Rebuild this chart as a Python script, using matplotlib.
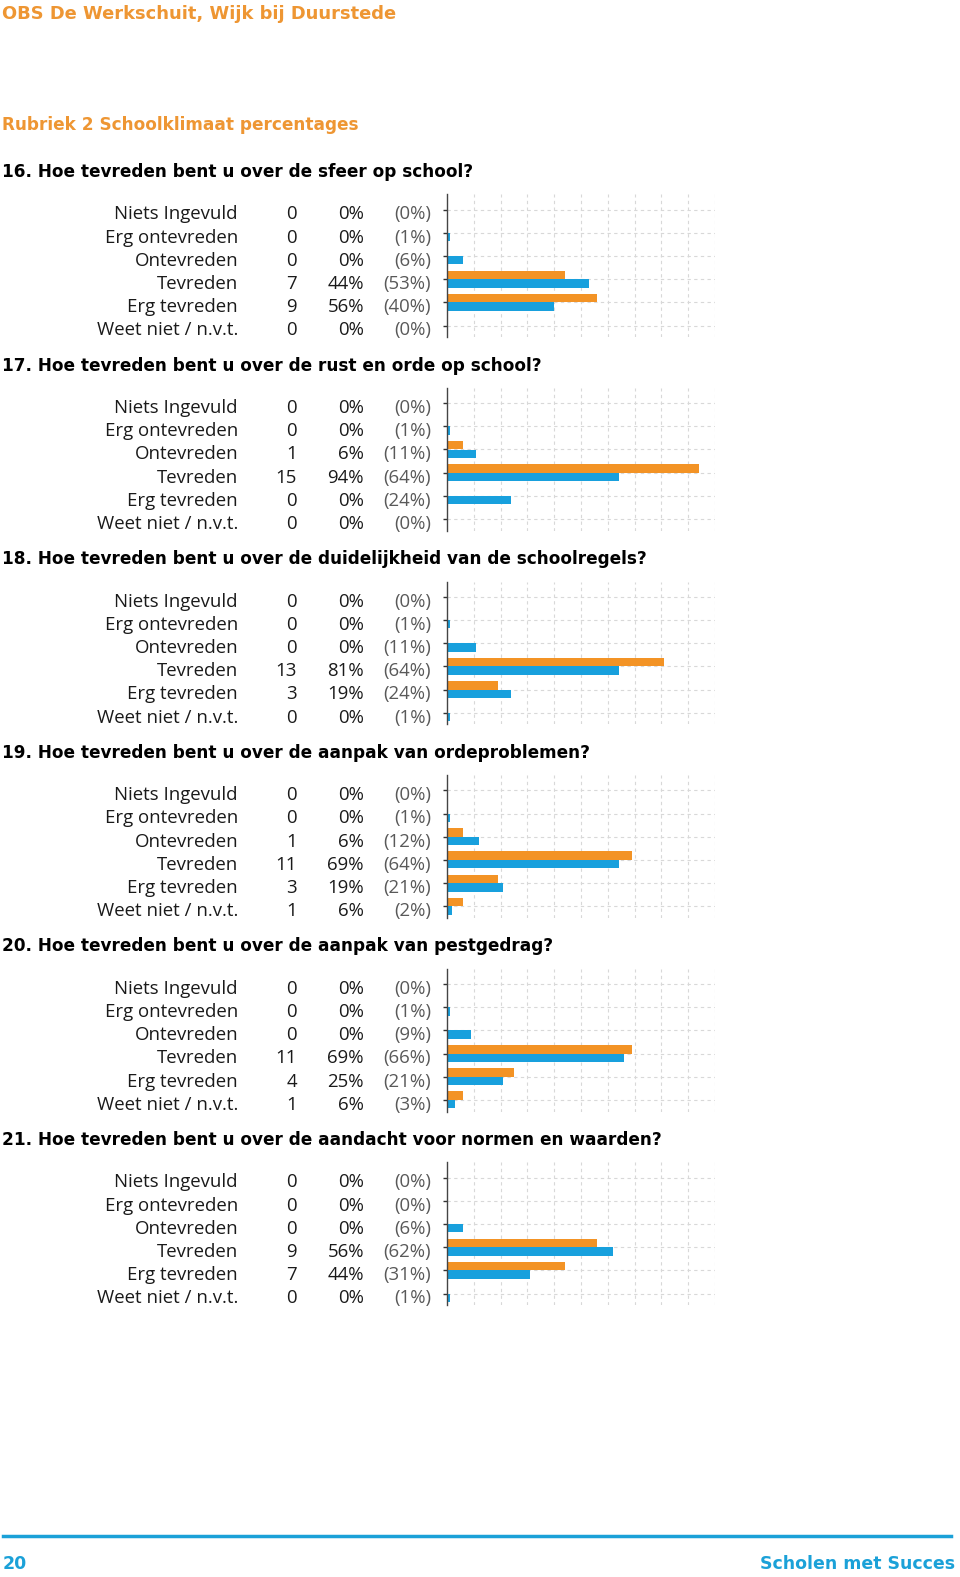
import numpy as np
import matplotlib.pyplot as plt
import matplotlib.transforms as mtransforms

# kleuren
oranje = '#F39325'
blauw = '#18A0DD'
kop_oranje = '#EE9633'
voet_blauw = '#1BA1D8'

categorieen = ['Niets Ingevuld', 'Erg ontevreden', 'Ontevreden',
               'Tevreden', 'Erg tevreden', 'Weet niet / n.v.t.']

vragen = [
    '16. Hoe tevreden bent u over de sfeer op school?',
    '17. Hoe tevreden bent u over de rust en orde op school?',
    '18. Hoe tevreden bent u over de duidelijkheid van de schoolregels?',
    '19. Hoe tevreden bent u over de aanpak van ordeproblemen?',
    '20. Hoe tevreden bent u over de aanpak van pestgedrag?',
    '21. Hoe tevreden bent u over de aandacht voor normen en waarden?',
]

# aantallen, percentages school, (percentages referentie)
aantal_16 = [0, 0, 0, 7, 9, 0]
school_16 = [0, 0, 0, 44, 56, 0]
ref_16 = [0, 1, 6, 53, 40, 0]

aantal_17 = [0, 0, 1, 15, 0, 0]
school_17 = [0, 0, 6, 94, 0, 0]
ref_17 = [0, 1, 11, 64, 24, 0]

aantal_18 = [0, 0, 0, 13, 3, 0]
school_18 = [0, 0, 0, 81, 19, 0]
ref_18 = [0, 1, 11, 64, 24, 1]

aantal_19 = [0, 0, 1, 11, 3, 1]
school_19 = [0, 0, 6, 69, 19, 6]
ref_19 = [0, 1, 12, 64, 21, 2]

aantal_20 = [0, 0, 0, 11, 4, 1]
school_20 = [0, 0, 0, 69, 25, 6]
ref_20 = [0, 1, 9, 66, 21, 3]

aantal_21 = [0, 0, 0, 9, 7, 0]
school_21 = [0, 0, 0, 56, 44, 0]
ref_21 = [0, 0, 6, 62, 31, 1]

aantallen = [aantal_16, aantal_17, aantal_18, aantal_19, aantal_20, aantal_21]
scholen = [school_16, school_17, school_18, school_19, school_20, school_21]
refs = [ref_16, ref_17, ref_18, ref_19, ref_20, ref_21]

W, H = 960, 1577
fig = plt.figure(figsize=(W / 100, H / 100), dpi=100)
fig.patch.set_facecolor('white')

tekst_font = ['Open Sans', 'DejaVu Sans']
kop_font = ['DejaVu Sans']
fs = 13.4


def fx(px):
    return px / W


def fy(py):
    return 1 - py / H


# koppen
fig.text(fx(2), fy(14), 'OBS De Werkschuit, Wijk bij Duurstede', color=kop_oranje,
         fontsize=12.9, fontweight='bold', family=kop_font, va='center', ha='left')
fig.text(fx(2), fy(125), 'Rubriek 2 Schoolklimaat percentages', color=kop_oranje,
         fontsize=12.2, fontweight='bold', family=kop_font, va='center', ha='left')

sp = 23.2
h = 0.37
y = np.arange(len(categorieen))

for k in range(6):
    rij0 = 209.5 + k * 193.6
    boven = rij0 - 0.65 * sp
    onder = rij0 + 5.5 * sp
    ax = fig.add_axes([fx(447), fy(onder), fx(715) - fx(447), (onder - boven) / H])
    ax.barh(y - h / 2, scholen[k], height=h, color=oranje, zorder=3)
    ax.barh(y + h / 2, refs[k], height=h, color=blauw, zorder=3)
    ax.set_xlim(0, 100)
    ax.set_ylim(5.5, -0.65)
    ax.set_xticks(np.arange(10, 101, 10))
    ax.set_yticks(y)
    ax.set_xticklabels([])
    ax.set_yticklabels([])
    ax.tick_params(axis='x', length=0)
    ax.tick_params(axis='y', length=3, width=1, color='#333333')
    ax.grid(True, color='#d8d8d8', linestyle=(0, (3, 3)), linewidth=0.8, zorder=0)
    for s in ['top', 'right', 'bottom']:
        ax.spines[s].set_visible(False)
    ax.spines['left'].set_color('#444444')
    ax.spines['left'].set_linewidth(1.0)
    ax.spines['left'].set_zorder(4)

    trans = mtransforms.blended_transform_factory(fig.transFigure, ax.transData)
    for i, cat in enumerate(categorieen):
        yy = i + 0.43
        ax.text(fx(238), yy, cat, transform=trans, ha='right', va='baseline',
                fontsize=fs, color='#1a1a1a', family=tekst_font)
        ax.text(fx(297), yy, str(aantallen[k][i]), transform=trans, ha='right', va='baseline',
                fontsize=fs, color='#1a1a1a', family=tekst_font)
        ax.text(fx(364), yy, f'{scholen[k][i]}%', transform=trans, ha='right', va='baseline',
                fontsize=fs, color='#1a1a1a', family=tekst_font)
        ax.text(fx(431), yy, f'({refs[k][i]}%)', transform=trans, ha='right', va='baseline',
                fontsize=fs, color='#595959', family=tekst_font)

    fig.text(fx(2), fy(rij0 - 37.5), vragen[k], color='black', fontsize=12.2,
             fontweight='bold', family=kop_font, va='center', ha='left')

# voettekst
fig.add_artist(plt.Line2D([fx(3), fx(951)], [fy(1536), fy(1536)], color=voet_blauw,
                          linewidth=2.5, transform=fig.transFigure))
fig.text(fx(3), fy(1564), '20', color=voet_blauw, fontsize=12.5, fontweight='bold',
         family=kop_font, va='center', ha='left')
fig.text(fx(955), fy(1564), 'Scholen met Succes', color=voet_blauw, fontsize=12.5,
         fontweight='bold', family=kop_font, va='center', ha='right')

fig.savefig('out.png', dpi=100, facecolor='white')
